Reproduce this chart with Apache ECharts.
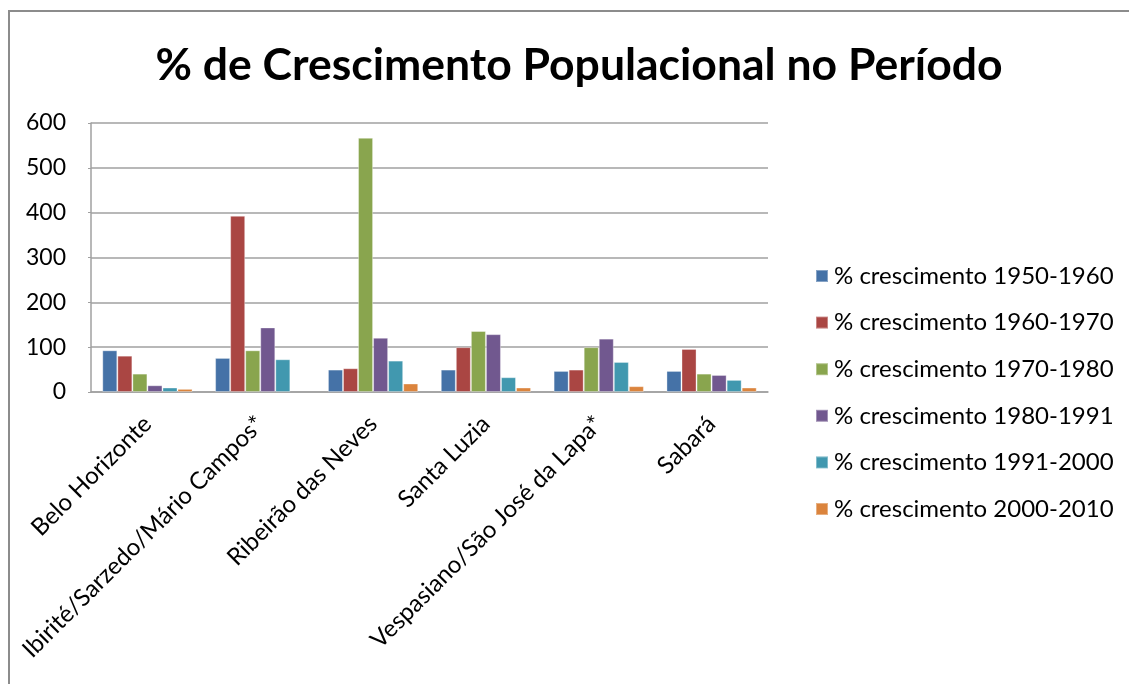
<!DOCTYPE html>
<html><head><meta charset="utf-8">
<script src="https://cdn.jsdelivr.net/npm/echarts@6/dist/echarts.min.js"></script>
<style>html,body{margin:0;padding:0;background:#fff}#c{width:1129px;height:684px}</style>
</head><body><div id="c"></div>
<script>
const titleText = '% de Crescimento Populacional no Período';
const categories = ['Belo Horizonte','Ibirité/Sarzedo/Mário Campos*','Ribeirão das Neves','Santa Luzia','Vespasiano/São José da Lapa*','Sabará'];
const seriesNames = ['% crescimento 1950-1960','% crescimento 1960-1970','% crescimento 1970-1980','% crescimento 1980-1991','% crescimento 1991-2000','% crescimento 2000-2010'];
const s1950 = [93, 76, 50, 50, 47, 47];
const s1960 = [81, 393, 53, 100, 50, 96];
const s1970 = [41, 93, 567, 136, 100, 41];
const s1980 = [15, 144, 121, 129, 119, 38];
const s1991 = [10, 73, 70, 33, 67, 27];
const s2000 = [7, -3, 19, 10, 13, 10];
const yTicks = [0, 100, 200, 300, 400, 500, 600];
const colors = ['#4572A7','#AA4643','#89A54E','#71588F','#4198AF','#DB843D'];
const allSeries = [s1950, s1960, s1970, s1980, s1991, s2000];
const font = 'Lato, "Liberation Sans", sans-serif';
const chart = echarts.init(document.getElementById('c'));
chart.setOption({
  animation: false,
  color: colors,
  title: { text: titleText, left: 574, textAlign: 'center', top: 38,
    textStyle: { fontFamily: font, fontSize: 44.5, fontWeight: 'bold', color: '#000' } },
  graphic: [{ type: 'rect', shape: { x: 9, y: 11, width: 1200, height: 800 },
    style: { fill: 'none', stroke: '#8c8c8c', lineWidth: 2 }, silent: true }],
  legend: { orient: 'vertical', left: 810, top: 259, itemWidth: 12, itemHeight: 12, itemGap: 22.6,
    data: seriesNames, icon: 'rect',
    textStyle: { fontFamily: font, fontSize: 24, lineHeight: 24, color: '#000', padding: [0,0,0,1] } },
  grid: { left: 91, top: 123, width: 677, height: 269, containLabel: false },
  xAxis: { type: 'category', data: categories,
    axisLine: { lineStyle: { color: '#a0a0a0', width: 1.5 } },
    axisTick: { show: false },
    axisLabel: { rotate: 45, interval: 0, fontFamily: font, fontSize: 24, color: '#000', margin: 28 } },
  yAxis: { type: 'value', min: 0, max: 600, interval: 100,
    axisLine: { show: true, lineStyle: { color: '#a0a0a0', width: 1.5 } },
    axisTick: { show: true, length: 3, lineStyle: { color: '#a0a0a0' } },
    splitLine: { lineStyle: { color: '#a0a0a0', width: 1.5 } },
    axisLabel: { fontFamily: font, fontSize: 23, color: '#000', margin: 25,
      formatter: v => yTicks.includes(v) ? String(v) : '' } },
  series: allSeries.map((d, i) => ({
    name: seriesNames[i], type: 'bar', data: d, barGap: '0%', barCategoryGap: '20%',
    itemStyle: { borderColor: 'rgba(255,255,255,0.35)', borderWidth: 1 }
  }))
});
</script></body></html>
